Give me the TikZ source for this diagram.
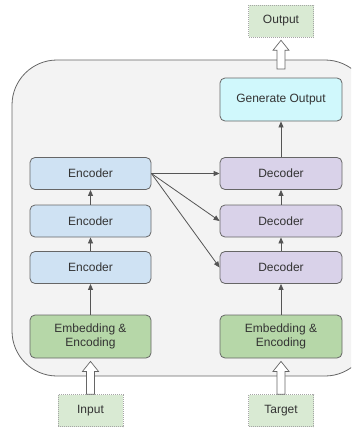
\documentclass[tikz,border=0pt]{standalone}
\usepackage{fontspec}
\setmainfont{Liberation Sans}
\usetikzlibrary{arrows.meta,calc}
\definecolor{encb}{HTML}{CFE2F3}
\definecolor{decb}{HTML}{D9D2E9}
\definecolor{embg}{HTML}{B6D7A8}
\definecolor{genc}{HTML}{D0F8FC}
\definecolor{iog}{HTML}{D9EAD3}
\definecolor{bgc}{HTML}{F3F3F3}
\definecolor{edge}{HTML}{666666}
\definecolor{arr}{HTML}{555555}
\definecolor{txt}{HTML}{333333}
\tikzset{
  blk/.style={draw=edge, line width=0.8pt, rounded corners=5pt, minimum width=121pt, inner sep=0pt, align=center, text=txt, font=\fontsize{12}{14}\selectfont},
  encbox/.style={blk, fill=encb, minimum height=32pt},
  decbox/.style={blk, fill=decb, minimum height=32pt, minimum width=122pt},
  embbox/.style={blk, fill=embg, minimum height=43pt},
  genbox/.style={blk, fill=genc, minimum height=43pt, minimum width=122pt},
  iobox/.style={draw=gray!70, fill=iog, line width=0.6pt, dash pattern=on 1pt off 1pt, minimum width=65pt, minimum height=32pt, inner sep=0pt, text=txt, font=\fontsize{12}{14}\selectfont},
  conn/.style={draw=arr, line width=0.8pt, -{Triangle[length=6pt,width=5pt]}},
  harr/.style={draw=edge, fill=white, line width=0.7pt},
}
\newcommand\hollowarrow[2]{%
  \path[harr] let \p1=(#1), \p2=($(#2)+(0,-3pt)$) in
   (\x1-4pt,\y1) -- (\x1-4pt,\y2-10pt) -- (\x1-8pt,\y2-10pt) -- (\x1,\y2) --
   (\x1+8pt,\y2-10pt) -- (\x1+4pt,\y2-10pt) -- (\x1+4pt,\y1) -- cycle;}
\begin{document}
\begin{tikzpicture}[x=1pt,y=-1pt]
\useasboundingbox (0,0) rectangle (351,428);
\clip (0,0) rectangle (351,428);
\draw[draw=edge, fill=bgc, line width=0.8pt, rounded corners=45pt] (12,60) rectangle (370,376);
\node[encbox] (enc1) at (90.5,173.5) {Encoder};
\node[encbox] (enc2) at (90.5,221) {Encoder};
\node[encbox] (enc3) at (90.5,267.5) {Encoder};
\node[embbox] (emb1) at (90.5,336.5) {Embedding \&\\Encoding};
\node[decbox] (dec1) at (281,173.5) {Decoder};
\node[decbox] (dec2) at (281,221) {Decoder};
\node[decbox] (dec3) at (281,267.5) {Decoder};
\node[embbox, minimum width=122pt] (emb2) at (281,336.5) {Embedding \&\\Encoding};
\node[genbox] (gen) at (281,99.5) {Generate Output};
\node[iobox] (out) at (281,21) {Output};
\node[iobox] (in) at (90.5,410.5) {Input};
\node[iobox] (tgt) at (281,410.5) {Target};
\coordinate (outstart) at (281,69);
\path[conn] (emb1.north) -- (enc3.south);
\path[conn] (enc3.north) -- (enc2.south);
\path[conn] (enc2.north) -- (enc1.south);
\path[conn] (emb2.north) -- (dec3.south);
\path[conn] (dec3.north) -- (dec2.south);
\path[conn] (dec2.north) -- (dec1.south);
\path[conn] (dec1.north) -- (gen.south);
\path[conn] (enc1.east) -- (dec1.west);
\path[conn] (enc1.east) -- (dec2.west);
\path[conn] (enc1.east) -- (dec3.west);
\hollowarrow{in.north}{emb1.south}
\hollowarrow{tgt.north}{emb2.south}
\hollowarrow{outstart}{out.south}
\end{tikzpicture}
\end{document}
